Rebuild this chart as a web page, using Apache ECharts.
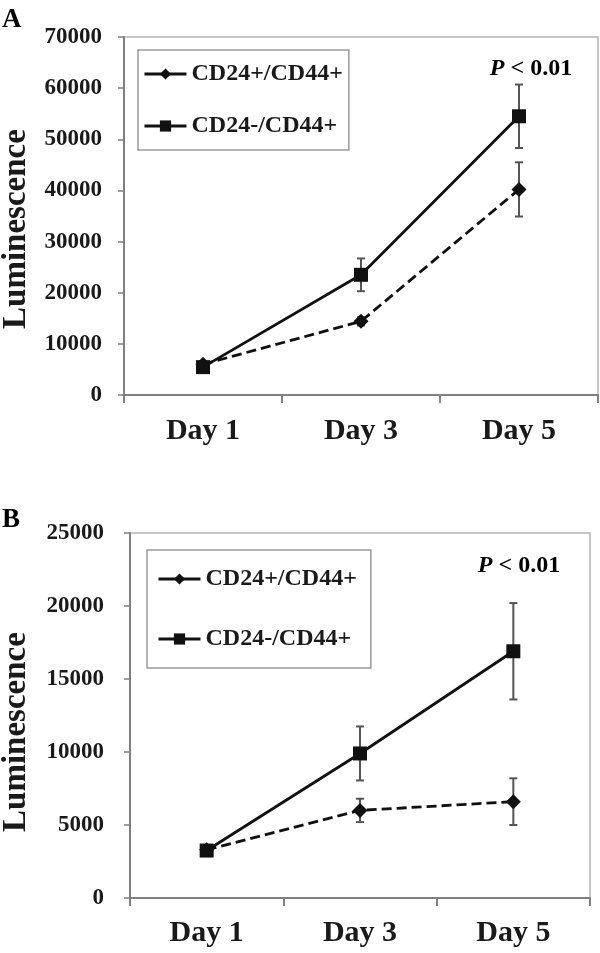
<!DOCTYPE html>
<html>
<head>
<meta charset="utf-8">
<script src="https://cdn.jsdelivr.net/npm/echarts@6/dist/echarts.min.js"></script>
<style>
html,body{margin:0;padding:0;background:#fff;}
#c{width:600px;height:953px;}
</style>
</head>
<body>
<div id="c"></div>
<script>
// ---- data ----
var categories = ['Day 1', 'Day 3', 'Day 5'];
var seriesNames = ['CD24+/CD44+', 'CD24-/CD44+'];

// Panel A
var aPosMean = [6000, 14400, 40200];
var aPosErr  = [500, 800, 5300];
var aNegMean = [5450, 23500, 54500];
var aNegErr  = [600, 3200, 6200];
var aYTicks  = [0, 10000, 20000, 30000, 40000, 50000, 60000, 70000];

// Panel B
var bPosMean = [3300, 6000, 6600];
var bPosErr  = [200, 800, 1600];
var bNegMean = [3250, 9900, 16900];
var bNegErr  = [200, 1850, 3300];
var bYTicks  = [0, 5000, 10000, 15000, 20000, 25000];

var pLabel = 'P < 0.01';

// ---- chart ----
var FONT = 'Liberation Serif';
var TXT = '#1a1a1a';
var AX = '#808080';

function errData(mean, err) {
  return mean.map(function (m, i) { return [i, m - err[i], m + err[i]]; });
}
function errRender(params, api) {
  var x = api.value(0), lo = api.value(1), hi = api.value(2);
  var p1 = api.coord([x, hi]);
  var p2 = api.coord([x, lo]);
  var w = 4;
  var st = { stroke: '#555', lineWidth: 2 };
  return {
    type: 'group',
    children: [
      { type: 'line', shape: { x1: p1[0], y1: p1[1], x2: p2[0], y2: p2[1] }, style: st },
      { type: 'line', shape: { x1: p1[0] - w, y1: p1[1], x2: p1[0] + w, y2: p1[1] }, style: st },
      { type: 'line', shape: { x1: p2[0] - w, y1: p2[1], x2: p2[0] + w, y2: p2[1] }, style: st }
    ]
  };
}

function xAxisCfg(gi, margin) {
  return {
    type: 'category', gridIndex: gi, data: categories, boundaryGap: true,
    axisLine: { lineStyle: { color: AX, width: 2 } },
    axisTick: { show: true, alignWithLabel: false, length: 8, lineStyle: { color: AX, width: 2 } },
    axisLabel: { margin: margin, fontFamily: FONT, fontWeight: 'bold', fontSize: 30, color: TXT },
    splitLine: { show: false }
  };
}
function yAxisCfg(gi, ticks, margin) {
  return {
    type: 'value', gridIndex: gi,
    min: ticks[0], max: ticks[ticks.length - 1], interval: ticks[1] - ticks[0],
    axisLine: { show: true, lineStyle: { color: AX, width: 2 } },
    axisTick: { show: true, length: 6, lineStyle: { color: AX, width: 1.5 } },
    axisLabel: { margin: margin, fontFamily: FONT, fontWeight: 'bold', fontSize: 23, color: TXT,
      formatter: function (v) { return String(v); } },
    splitLine: { show: false }
  };
}
function lineSeries(name, gi, data, dashed, symbol, size) {
  return {
    type: 'line', name: name, xAxisIndex: gi, yAxisIndex: gi, data: data,
    symbol: symbol, symbolSize: size, z: 3,
    lineStyle: { color: '#111', width: 2.8, type: dashed ? [10, 5] : 'solid' },
    itemStyle: { color: '#111' },
    emphasis: { disabled: true }
  };
}
function errSeries(gi, data) {
  return {
    type: 'custom', xAxisIndex: gi, yAxisIndex: gi, data: data,
    renderItem: errRender, encode: { x: 0, y: [1, 2] }, z: 2, silent: true
  };
}
function legendCfg(left, top, padding, gap) {
  return {
    orient: 'vertical', left: left, top: top, padding: padding, itemGap: gap,
    itemWidth: 42, itemHeight: 14,
    borderColor: '#9a9a9a', borderWidth: 1.5, selectedMode: false,
    textStyle: { fontFamily: FONT, fontWeight: 'bold', fontSize: 24, color: TXT },
    data: [
      { name: seriesNames[0], lineStyle: { type: 'solid', width: 3 } },
      { name: seriesNames[1], lineStyle: { width: 3 } }
    ]
  };
}

var chart = echarts.init(document.getElementById('c'), null, { renderer: 'canvas' });
chart.setOption({
  backgroundColor: '#fff',
  animation: false,
  grid: [
    { left: 124, top: 37, right: 2, bottom: 558, show: true, borderColor: '#b5b5b5', borderWidth: 1.5 },
    { left: 130, top: 533, right: 10, bottom: 55, show: true, borderColor: '#b5b5b5', borderWidth: 1.5 }
  ],
  xAxis: [xAxisCfg(0, 21), xAxisCfg(1, 20)],
  yAxis: [yAxisCfg(0, aYTicks, 22), yAxisCfg(1, bYTicks, 26)],
  legend: [
    legendCfg(138, 50, [12, 6, 12, 5], 28),
    legendCfg(147, 550, [17, 14, 17, 10], 36)
  ],
  series: [
    errSeries(0, errData(aPosMean, aPosErr)),
    errSeries(0, errData(aNegMean, aNegErr)),
    lineSeries(seriesNames[0], 0, aPosMean, true, 'diamond', 15),
    lineSeries(seriesNames[1], 0, aNegMean, false, 'rect', 14),
    errSeries(1, errData(bPosMean, bPosErr)),
    errSeries(1, errData(bNegMean, bNegErr)),
    lineSeries(seriesNames[0], 1, bPosMean, true, 'diamond', 15),
    lineSeries(seriesNames[1], 1, bNegMean, false, 'rect', 14)
  ],
  graphic: [
    { type: 'text', x: 2, y: 20, style: { text: 'A', fontFamily: FONT, fontWeight: 'bold', fontSize: 27, fill: '#000', textVerticalAlign: 'middle' } },
    { type: 'text', x: 2, y: 520, style: { text: 'B', fontFamily: FONT, fontWeight: 'bold', fontSize: 27, fill: '#000', textVerticalAlign: 'middle' } },
    { type: 'text', x: 16, y: 229, rotation: Math.PI / 2, style: { text: 'Luminescence', fontFamily: FONT, fontWeight: 'bold', fontSize: 33, fill: TXT, textAlign: 'center', textVerticalAlign: 'middle' } },
    { type: 'text', x: 16, y: 732, rotation: Math.PI / 2, style: { text: 'Luminescence', fontFamily: FONT, fontWeight: 'bold', fontSize: 33, fill: TXT, textAlign: 'center', textVerticalAlign: 'middle' } },
    { type: 'text', x: 531, y: 69, style: { text: '{i|P} < 0.01', textAlign: 'center', textVerticalAlign: 'middle', fontFamily: FONT, fontWeight: 'bold', fontSize: 24, fill: '#000', rich: { i: { fontFamily: FONT, fontWeight: 'bold', fontStyle: 'italic', fontSize: 24, fill: '#000' } } } },
    { type: 'text', x: 519, y: 566, style: { text: '{i|P} < 0.01', textAlign: 'center', textVerticalAlign: 'middle', fontFamily: FONT, fontWeight: 'bold', fontSize: 24, fill: '#000', rich: { i: { fontFamily: FONT, fontWeight: 'bold', fontStyle: 'italic', fontSize: 24, fill: '#000' } } } }
  ]
});
</script>
</body>
</html>
